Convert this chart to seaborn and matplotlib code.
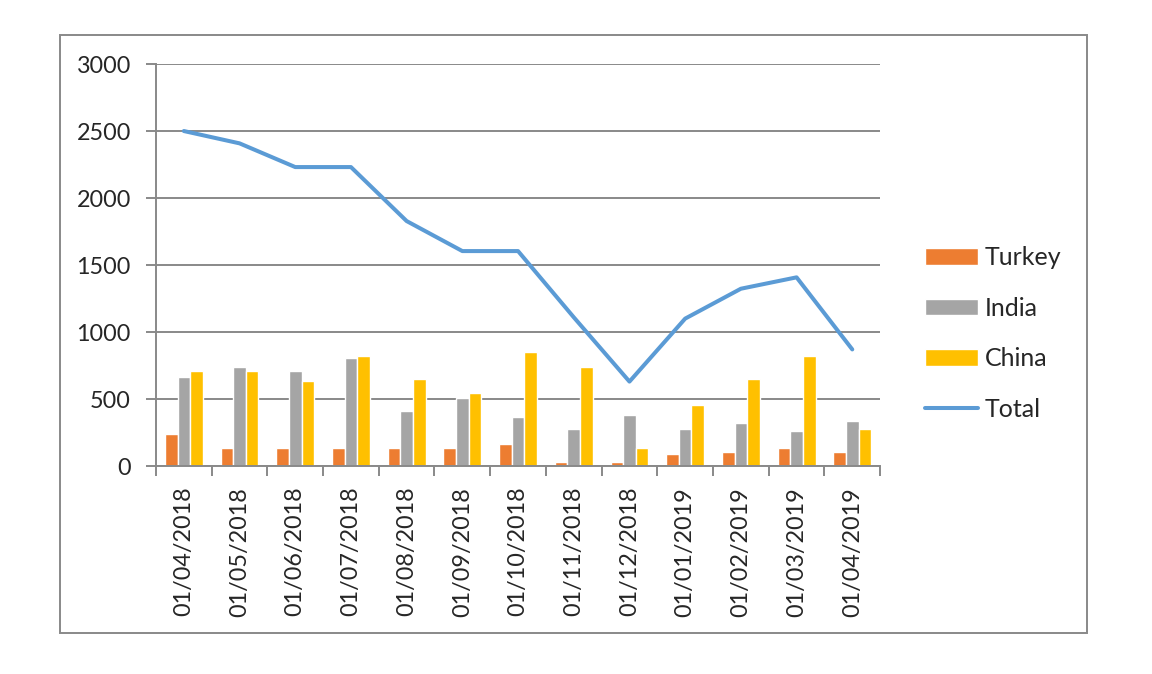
import numpy as np
import pandas as pd
import matplotlib
matplotlib.use("Agg")
import matplotlib.pyplot as plt
import matplotlib.patches as mpatches
import seaborn as sns

# ------------------------------------------------------------
# data
# ------------------------------------------------------------
dates = ["01/04/2018", "01/05/2018", "01/06/2018", "01/07/2018", "01/08/2018",
         "01/09/2018", "01/10/2018", "01/11/2018", "01/12/2018", "01/01/2019",
         "01/02/2019", "01/03/2019", "01/04/2019"]
turkey = [242, 136, 136, 136, 136, 136, 167, 30, 30, 91, 106, 136, 106]
india = [667, 742, 712, 803, 409, 510, 364, 273, 379, 273, 318, 258, 333]
china = [712, 712, 636, 818, 651, 545, 848, 742, 136, 455, 651, 818, 273]
total = [2500, 2408, 2231, 2231, 1828, 1604, 1604, 1110, 630, 1100, 1323, 1408, 870]

countries = ["Turkey", "India", "China"]
colors = {"Turkey": "#ED7D31", "India": "#A5A5A5", "China": "#FFC000"}
LINE_COLOR = "#5B9BD5"
GRID_COLOR = "#898989"

df = pd.DataFrame({"Date": dates, "Turkey": turkey, "India": india, "China": china})
long_df = df.melt(id_vars="Date", value_vars=countries, var_name="Country", value_name="Value")

# ------------------------------------------------------------
# figure
# ------------------------------------------------------------
sns.set_style("white")
plt.rcParams["font.family"] = ["Lato", "DejaVu Sans"]
FS = 16.8

fig = plt.figure(figsize=(11.52, 6.74), dpi=100)
ax = fig.add_axes([0.1354, 0.3086, 0.6286, 0.5964])

sns.barplot(data=long_df, x="Date", y="Value", hue="Country", hue_order=countries,
            palette=colors, width=0.68, gap=0, saturation=1, ax=ax, zorder=3)
sns.lineplot(x=np.arange(len(dates)), y=total, color=LINE_COLOR, linewidth=2.9,
             label="Total", ax=ax, zorder=4)

handles, labels = ax.get_legend_handles_labels()
ax.get_legend().remove()

ax.set_xlim(-0.5, len(dates) - 0.5)
ax.set_ylim(0, 3000)
ax.set_yticks(np.arange(0, 3001, 500))
ax.set_xlabel("")
ax.set_ylabel("")

# horizontal grid
ax.yaxis.grid(True, color=GRID_COLOR, linewidth=1.4, zorder=0)
ax.xaxis.grid(False)
ax.set_axisbelow(True)

for s in ["top", "right"]:
    ax.spines[s].set_visible(False)
for s in ["left", "bottom"]:
    ax.spines[s].set_color(GRID_COLOR)
    ax.spines[s].set_linewidth(1.4)
    ax.spines[s].set_zorder(3.5)

# category labels centred, tick marks on the boundaries
ax.set_xticks(np.arange(len(dates)))
ax.set_xticklabels(dates, rotation=90, fontsize=FS)
ax.set_xticks(np.arange(-0.5, len(dates)), minor=True)
ax.tick_params(axis="x", which="major", bottom=True, length=0, pad=15)
ax.tick_params(axis="x", which="minor", bottom=True, length=7, width=1.4,
               color=GRID_COLOR, direction="out")
ax.tick_params(axis="y", left=True, length=7, width=1.4, color=GRID_COLOR,
               direction="out", pad=11, labelsize=FS)

# legend on the right
fig.legend(handles, labels, loc="center left", bbox_to_anchor=(0.783, 0.505),
           frameon=False, fontsize=18, handlelength=2.15, handleheight=0.65,
           labelspacing=1.1, handletextpad=0.25)

# outer chart border
fig.patches.append(mpatches.Rectangle((0.052, 0.0608), 0.892, 0.887, transform=fig.transFigure,
                                      fill=False, edgecolor=GRID_COLOR, linewidth=1.4))

fig.savefig("out.png", dpi=100)
plt.close(fig)
